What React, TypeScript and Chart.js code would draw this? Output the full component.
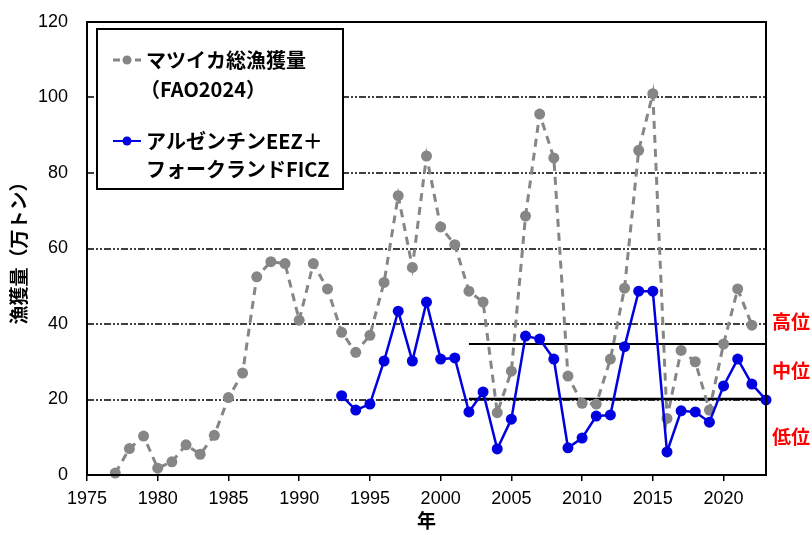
import React, { useEffect, useRef } from "react";
import { Chart, registerables } from "chart.js";

Chart.register(...registerables);

// ---- data ----
const totalYears = [1977,1978,1979,1980,1981,1982,1983,1984,1985,1986,1987,1988,1989,1990,1991,1992,1993,1994,1995,1996,1997,1998,1999,2000,2001,2002,2003,2004,2005,2006,2007,2008,2009,2010,2011,2012,2013,2014,2015,2016,2017,2018,2019,2020,2021,2022];
const totalValues = [0.5,7,10.3,1.8,3.5,8,5.5,10.5,20.5,27,52.5,56.5,56,41,56,49.3,37.8,32.5,37,51,74,55,84.5,65.7,61,48.7,45.8,16.5,27.5,68.6,95.6,84,26.2,19,18.8,30.7,49.5,86,101,15,33,30,17.2,34.7,49.3,39.7];

const argYears = [1993,1994,1995,1996,1997,1998,1999,2000,2001,2002,2003,2004,2005,2006,2007,2008,2009,2010,2011,2012,2013,2014,2015,2016,2017,2018,2019,2020,2021,2022,2023];
const argValues = [21,17.2,18.8,30.2,43.4,30.2,45.8,30.7,31,16.7,22,6.9,14.8,36.8,36,30.7,7.2,9.8,15.6,15.9,34,48.7,48.7,6.1,17,16.7,14,23.6,30.7,24.1,19.9];

const thresholdYears = [2002, 2023];
const highThreshold = 34.7;
const lowThreshold = 20.1;

const levelLabels = ["高位", "中位", "低位"];
const levelLabelValues = [40.5, 27.5, 10];

const xTickValues = [1975,1980,1985,1990,1995,2000,2005,2010,2015,2020];
const gridValues = [20, 40, 60, 80, 100];

const legendLabels = ["マツイカ総漁獲量", "（FAO2024）", "アルゼンチンEEZ＋", "フォークランドFICZ"];
const yTitle = "漁獲量（万トン）";
const xTitle = "年";

const GRAY = "rgb(134,134,134)";
const BLUE = "rgb(0,0,225)";
const CJK = '"Noto Sans CJK JP", "Noto Sans", sans-serif';
const LAT = '"Liberation Sans", Arial, sans-serif';

const gridPlugin = {
  id: "gridPlugin",
  beforeDatasetsDraw(chart: any) {
    const { ctx, chartArea, scales } = chart;
    ctx.save();
    ctx.strokeStyle = "#000";
    ctx.lineWidth = 1.6;
    ctx.setLineDash([7, 2, 2, 2, 2, 2]);
    for (const v of gridValues) {
      const y = Math.round(scales.y.getPixelForValue(v));
      ctx.beginPath();
      ctx.moveTo(chartArea.left, y);
      ctx.lineTo(chartArea.right, y);
      ctx.stroke();
    }
    ctx.restore();
  },
};

const framePlugin = {
  id: "framePlugin",
  afterDatasetsDraw(chart: any) {
    const { ctx, chartArea, scales } = chart;
    ctx.save();
    ctx.strokeStyle = "#000";
    ctx.lineWidth = 2;
    ctx.setLineDash([]);
    ctx.strokeRect(chartArea.left, chartArea.top, chartArea.right - chartArea.left, chartArea.bottom - chartArea.top);

    // level labels
    ctx.fillStyle = "rgb(255,0,0)";
    ctx.font = `bold 19px ${CJK}`;
    ctx.textAlign = "left";
    ctx.textBaseline = "middle";
    levelLabels.forEach((t, i) => {
      ctx.fillText(t, chartArea.right + 6, scales.y.getPixelForValue(levelLabelValues[i]));
    });

    // legend
    const bx = 97, by = 29, bw = 246, bh = 160;
    ctx.fillStyle = "#fff";
    ctx.fillRect(bx, by, bw, bh);
    ctx.lineWidth = 2;
    ctx.strokeStyle = "#000";
    ctx.strokeRect(bx, by, bw, bh);

    // gray sample
    ctx.strokeStyle = GRAY;
    ctx.lineWidth = 3;
    ctx.setLineDash([7, 4]);
    ctx.beginPath();
    ctx.moveTo(113, 60);
    ctx.lineTo(141, 60);
    ctx.stroke();
    ctx.setLineDash([]);
    ctx.fillStyle = GRAY;
    ctx.beginPath();
    ctx.arc(127, 60, 4.5, 0, Math.PI * 2);
    ctx.fill();

    // blue sample
    ctx.strokeStyle = BLUE;
    ctx.lineWidth = 2;
    ctx.beginPath();
    ctx.moveTo(113, 141);
    ctx.lineTo(141, 141);
    ctx.stroke();
    ctx.fillStyle = BLUE;
    ctx.beginPath();
    ctx.arc(127, 141, 4.5, 0, Math.PI * 2);
    ctx.fill();

    ctx.fillStyle = "#000";
    ctx.font = `bold 20px ${CJK}`;
    ctx.textAlign = "left";
    ctx.textBaseline = "middle";
    ctx.fillText(legendLabels[0], 146, 60);
    ctx.fillText(legendLabels[1], 140, 89);
    ctx.fillText(legendLabels[2], 146, 141);
    ctx.fillText(legendLabels[3], 146, 169);
    ctx.restore();
  },
};

export default function App() {
  const ref = useRef<HTMLCanvasElement>(null);
  useEffect(() => {
    document.body.style.margin = "0";
    const canvas = ref.current!;
    const chart = new Chart(canvas, {
      type: "line",
      data: {
        datasets: [
          {
            label: "アルゼンチンEEZ＋フォークランドFICZ",
            data: argYears.map((x, i) => ({ x, y: argValues[i] })),
            borderColor: BLUE,
            backgroundColor: BLUE,
            borderWidth: 2.5,
            pointRadius: 5.5,
            pointBorderWidth: 0,
            pointBackgroundColor: BLUE,
            tension: 0,
            clip: false as any,
          },
          {
            label: "マツイカ総漁獲量（FAO2024）",
            data: totalYears.map((x, i) => ({ x, y: totalValues[i] })),
            borderColor: GRAY,
            backgroundColor: GRAY,
            borderWidth: 3,
            borderDash: [8, 6],
            pointRadius: 5.5,
            pointBorderWidth: 0,
            pointBackgroundColor: GRAY,
            tension: 0,
            clip: false as any,
          },
          {
            label: "high",
            data: thresholdYears.map((x) => ({ x, y: highThreshold })),
            borderColor: "#000",
            borderWidth: 2,
            pointRadius: 0,
            clip: false as any,
          },
          {
            label: "low",
            data: thresholdYears.map((x) => ({ x, y: lowThreshold })),
            borderColor: "#000",
            borderWidth: 2.5,
            pointRadius: 0,
            clip: false as any,
          },
        ],
      },
      options: {
        animation: false,
        responsive: false,
        maintainAspectRatio: false,
        layout: { padding: { top: 22, right: 46, left: 0, bottom: 0 } },
        plugins: { legend: { display: false }, tooltip: { enabled: false } },
        scales: {
          x: {
            type: "linear",
            min: 1975,
            max: 2023,
            afterBuildTicks: (scale: any) => {
              scale.ticks = xTickValues.map((v) => ({ value: v }));
            },
            afterFit: (scale: any) => {
              scale.height = 60;
            },
            ticks: {
              autoSkip: false,
              maxRotation: 0,
              color: "#000",
              font: { family: LAT, size: 18 },
              padding: 7,
              callback: (v: any) => String(v),
            },
            grid: { display: true, drawOnChartArea: false, drawTicks: true, tickLength: 6, color: "#000", lineWidth: 1.5 },
            border: { display: false },
            title: {
              display: true,
              text: xTitle,
              color: "#000",
              font: { family: CJK, size: 19, weight: "bold" },
              padding: { top: 0, bottom: 3 },
            },
          },
          y: {
            min: 0,
            max: 120,
            afterFit: (scale: any) => {
              scale.width = 87;
            },
            ticks: {
              stepSize: 20,
              color: "#000",
              font: { family: LAT, size: 18 },
              padding: 11,
            },
            grid: { display: false },
            border: { display: false },
            title: {
              display: true,
              text: yTitle,
              color: "#000",
              font: { family: CJK, size: 19, weight: "bold" },
              padding: { top: 7, bottom: 0 },
            },
          },
        },
      },
      plugins: [gridPlugin, framePlugin],
    } as any);
    return () => chart.destroy();
  }, []);
  return (
    <div style={{ width: 812, height: 535, background: "#fff" }}>
      <canvas ref={ref} width={812} height={535} style={{ display: "block" }} />
    </div>
  );
}
